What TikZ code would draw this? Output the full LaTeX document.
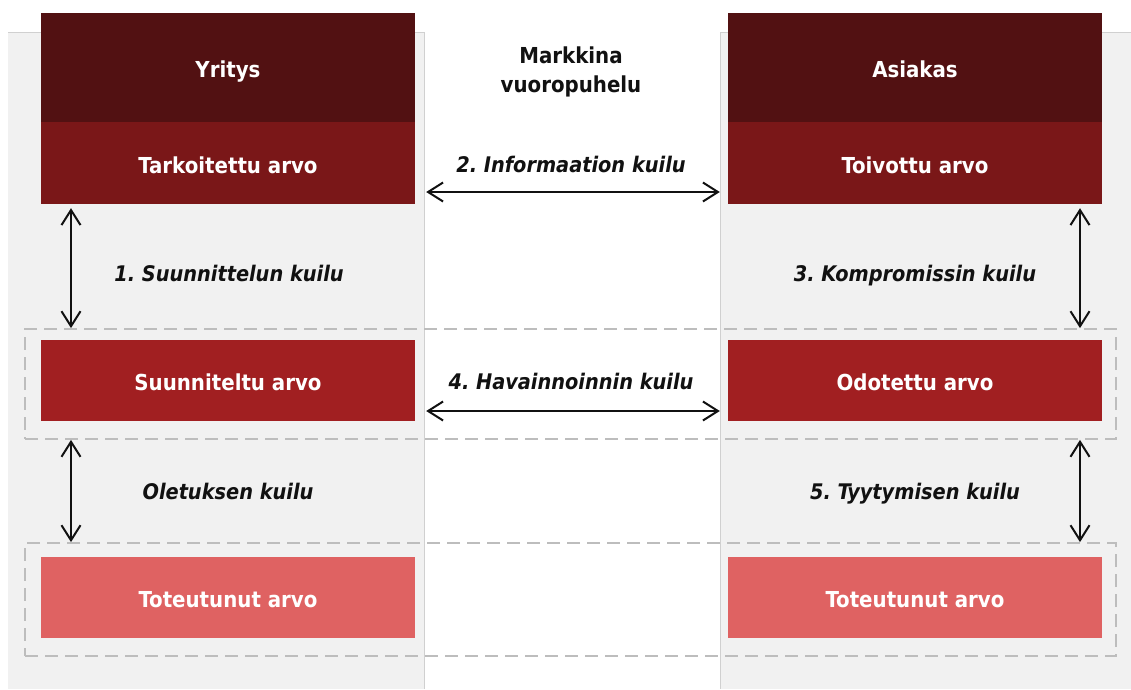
\documentclass[tikz,border=0pt]{standalone}
\usepackage{fontspec}
\setmainfont{DejaVu Sans Condensed}[
  BoldFont={DejaVu Sans Condensed Bold},
  ItalicFont={DejaVu Sans Condensed Oblique},
  BoldItalicFont={DejaVu Sans Condensed Bold Oblique}]
\usetikzlibrary{arrows.meta,calc}
\frenchspacing
\definecolor{panelgray}{HTML}{F1F1F1}
\definecolor{panelline}{HTML}{D0D0D0}
\definecolor{headred}{HTML}{521112}
\definecolor{intred}{HTML}{7A1718}
\definecolor{planred}{HTML}{A11F21}
\definecolor{realred}{HTML}{DF6262}
\definecolor{groupdash}{HTML}{BDBDBD}
\definecolor{labelink}{HTML}{111111}

\begin{document}
\begin{tikzpicture}[x=1pt,y=-1pt,
  valuebox/.style={minimum width=374pt, inner sep=0pt, text=white,
    text height=24pt, text depth=4pt,
    font=\fontsize{22}{26}\selectfont\bfseries},
  group/.style={draw=groupdash, line width=1.8pt, dash pattern=on 13pt off 7pt,
    inner sep=0pt, minimum width=1091pt},
  gaplabel/.style={anchor=base, text=labelink,
    font=\fontsize{21.5}{26}\selectfont\bfseries\itshape},
  gap/.style={draw=labelink, line width=2pt,
    {Straight Barb[length=15pt,width=19pt]}-{Straight Barb[length=15pt,width=19pt]}}
]
\useasboundingbox (0,0) rectangle (1131,689);

% company and customer columns
\fill[panelgray] (8,32) rectangle (424,689);
\draw[panelline, line width=1pt] (8,32) -- (424,32) -- (424,689);
\fill[panelgray] (720,32) rectangle (1131,689);
\draw[panelline, line width=1pt] (1131,32) -- (720,32) -- (720,689);

% dashed groupings across both columns
\node[group, minimum height=110pt] (grp1) at (570.5,384) {};
\node[group, minimum height=113pt] (grp2) at (570.5,599.5) {};

% company column
\node[valuebox, fill=headred, minimum height=109pt] (hdL)  at (228,67.5)  {Yritys};
\node[valuebox, fill=intred,  minimum height=82pt]  (tarL) at (228,163)   {Tarkoitettu arvo};
\node[valuebox, fill=planred, minimum height=81pt]  (suuL) at (228,380.5) {Suunniteltu arvo};
\node[valuebox, fill=realred, minimum height=81pt]  (totL) at (228,597.5) {Toteutunut arvo};

% customer column
\node[valuebox, fill=headred, minimum height=109pt] (hdR)  at (915,67.5)  {Asiakas};
\node[valuebox, fill=intred,  minimum height=82pt]  (toiR) at (915,163)   {Toivottu arvo};
\node[valuebox, fill=planred, minimum height=81pt]  (odoR) at (915,380.5) {Odotettu arvo};
\node[valuebox, fill=realred, minimum height=81pt]  (totR) at (915,597.5) {Toteutunut arvo};

% market dialogue heading (base = baseline of the last line)
\node[anchor=base, align=center, text=labelink,
  font=\fontsize{22}{29}\selectfont\bfseries] (mkt) at (571,92)
  {Markkina\\vuoropuhelu};

% gap labels
\node[gaplabel] (l1) at (229,281) {1. Suunnittelun kuilu};
\node[gaplabel] (l2) at (571,172) {2. Informaation kuilu};
\node[gaplabel] (l3) at (915,281) {3. Kompromissin kuilu};
\node[gaplabel] (l4) at (571,389) {4. Havainnoinnin kuilu};
\node[gaplabel] (l0) at (228,499) {Oletuksen kuilu};
\node[gaplabel] (l5) at (915,499) {5. Tyytymisen kuilu};

% arrow columns
\coordinate (colL) at (71,0);
\coordinate (colR) at (1080,0);

% vertical gaps
\draw[gap] ($(tarL.south -| colL)+(0,4)$) -- (grp1.north -| colL);
\draw[gap] (grp1.south -| colL) -- (grp2.north -| colL);
\draw[gap] ($(toiR.south -| colR)+(0,4)$) -- (grp1.north -| colR);
\draw[gap] (grp1.south -| colR) -- (grp2.north -| colR);

% horizontal gaps
\draw[gap] ([xshift=11pt,yshift=-29pt]tarL.east) -- ([xshift=-8pt,yshift=-29pt]toiR.west);
\draw[gap] ([xshift=11pt,yshift=-30.5pt]suuL.east) -- ([xshift=-8pt,yshift=-30.5pt]odoR.west);
\end{tikzpicture}
\end{document}
